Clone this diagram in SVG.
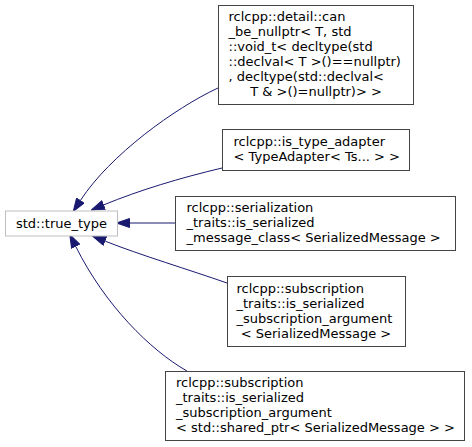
<svg xmlns="http://www.w3.org/2000/svg" width="472" height="447" viewBox="0 0 472 447">
<style>
text{font-family:"DejaVu Sans",sans-serif;font-size:13px;fill:#000}
.box{fill:#fff;stroke:#444;stroke-width:1}
.base{fill:#fff;stroke:#bfbfbf;stroke-width:1}
.edge{fill:none;stroke:#191970;stroke-width:1}
.c{text-anchor:middle}
</style>
<defs>
<marker id="ah" markerUnits="userSpaceOnUse" viewBox="0 0 14 10" refX="0" refY="5" markerWidth="14" markerHeight="10" orient="auto">
<path d="M0.5,0.5 L13.5,5 L0.5,9.5 Z" fill="#191970" stroke="#191970" stroke-width="1"/>
</marker>
</defs>
<g id="connectors">
<path class="edge" marker-end="url(#ah)" d="M218,88 C175,108 110,155 80.6,200.2"/>
<path class="edge" marker-end="url(#ah)" d="M222,168 C180,178 140,190 103.9,204.8"/>
<path class="edge" marker-end="url(#ah)" d="M175,223 L130,223"/>
<path class="edge" marker-end="url(#ah)" d="M227,283 C190,270 140,255 105.3,241.2"/>
<path class="edge" marker-end="url(#ah)" d="M187,371 C150,350 105,305 75.8,246.6"/>
</g>
<g id="node-true_type">
<rect class="base" x="5.5" y="211" width="112" height="25"/>
<text class="c" x="61.5" y="227.5">std::true_type</text>
</g>
<g id="node-can_be_nullptr">
<rect class="box" x="218.5" y="5.5" width="195" height="99"/>
<text x="228.5" y="20.7">rclcpp::detail::can</text>
<text x="228.5" y="35.7">_be_nullptr&lt; T, std</text>
<text x="228.5" y="50.7">::void_t&lt; decltype(std</text>
<text x="228.5" y="65.7">::declval&lt; T &gt;()==nullptr)</text>
<text x="228.5" y="80.7">, decltype(std::declval&lt;</text>
<text class="c" x="316" y="95.7">T &amp; &gt;()=nullptr)&gt; &gt;</text>
</g>
<g id="node-is_type_adapter">
<rect class="box" x="222.5" y="129.5" width="187" height="41"/>
<text x="233.5" y="145.7">rclcpp::is_type_adapter</text>
<text x="233.5" y="160.7">&lt; TypeAdapter&lt; Ts... &gt; &gt;</text>
</g>
<g id="node-is_serialized_message_class">
<rect class="box" x="175.5" y="196.5" width="280" height="54"/>
<text x="186.5" y="211.7">rclcpp::serialization</text>
<text x="186.5" y="226.7">_traits::is_serialized</text>
<text x="186.5" y="241.7">_message_class&lt; SerializedMessage &gt;</text>
</g>
<g id="node-is_serialized_subscription_argument">
<rect class="box" x="227.5" y="276.5" width="178" height="70"/>
<text x="236.5" y="292.7">rclcpp::subscription</text>
<text x="236.5" y="307.7">_traits::is_serialized</text>
<text x="236.5" y="322.7">_subscription_argument</text>
<text class="c" x="316" y="337.7">&lt; SerializedMessage &gt;</text>
</g>
<g id="node-is_serialized_subscription_argument_shared">
<rect class="box" x="165.5" y="371.5" width="299" height="69"/>
<text x="176" y="387">rclcpp::subscription</text>
<text x="176" y="402">_traits::is_serialized</text>
<text x="176" y="417">_subscription_argument</text>
<text x="176" y="432">&lt; std::shared_ptr&lt; SerializedMessage &gt; &gt;</text>
</g>
</svg>
